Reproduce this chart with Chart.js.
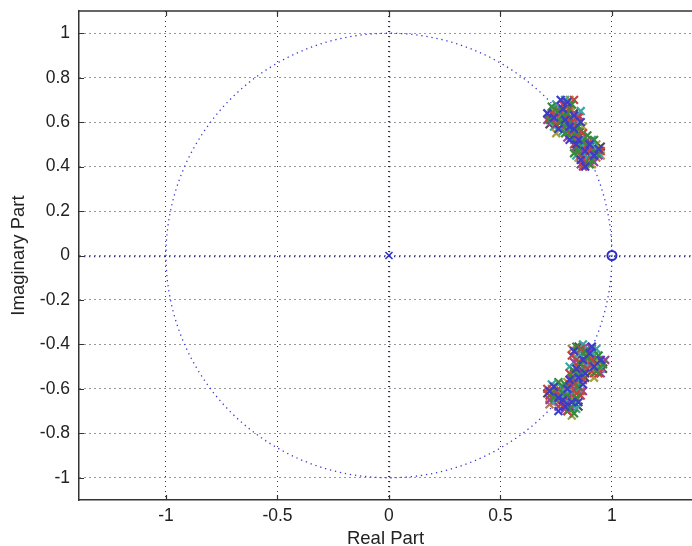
<!DOCTYPE html>
<html>
<head>
<meta charset="utf-8">
<script src="https://cdn.jsdelivr.net/npm/chart.js@4.4.1/dist/chart.umd.min.js"></script>
<style>
  html, body { margin: 0; padding: 0; background: #fff; overflow: hidden; }
  #wrap { width: 692px; height: 546px; }
</style>
</head>
<body>
<div id="wrap"><canvas id="chart"></canvas></div>
<script>
// axis ticks
var xTicks = [-1, -0.5, 0, 0.5, 1];
var yTicks = [-1, -0.8, -0.6, -0.4, -0.2, 0, 0.2, 0.4, 0.6, 0.8, 1];

// the filter's zero and pole
var zeroPts = [[1, 0]];
var polePts = [[0, 0]];

// poles from the many runs, upper half (one list per run group)
var upperRuns = [
  [[0.74,0.62],[0.78,0.66],[0.81,0.58],[0.85,0.52],[0.88,0.47],[0.92,0.45],[0.76,0.57],[0.83,0.63],[0.86,0.43],[0.90,0.50],[0.80,0.69],[0.94,0.48],
   [0.79,0.61],[0.83,0.57],[0.81,0.52],[0.88,0.40],[0.71,0.64],[0.77,0.70],[0.86,0.60],[0.84,0.50]],
  [[0.72,0.61],[0.77,0.60],[0.80,0.64],[0.84,0.56],[0.87,0.51],[0.91,0.43],[0.79,0.55],[0.82,0.68],[0.85,0.47],[0.93,0.46],[0.76,0.65],[0.89,0.54],
   [0.80,0.59],[0.82,0.53],[0.85,0.58],[0.90,0.41],[0.73,0.67],[0.78,0.63],[0.92,0.52],[0.83,0.46]],
  [[0.75,0.59],[0.79,0.62],[0.82,0.60],[0.83,0.50],[0.86,0.45],[0.90,0.47],[0.73,0.64],[0.81,0.66],[0.88,0.42],[0.95,0.47],[0.78,0.68],[0.87,0.55],
   [0.77,0.64],[0.84,0.54],[0.80,0.56],[0.87,0.40],[0.72,0.62],[0.83,0.70],[0.89,0.50],[0.85,0.62]],
  [[0.77,0.63],[0.80,0.60],[0.84,0.61],[0.86,0.49],[0.89,0.44],[0.92,0.49],[0.74,0.58],[0.79,0.70],[0.84,0.45],[0.91,0.52],[0.82,0.55],[0.86,0.65],
   [0.76,0.60],[0.81,0.56],[0.83,0.52],[0.86,0.52],[0.75,0.68],[0.78,0.56],[0.94,0.46],[0.88,0.47]],
  [[0.73,0.60],[0.78,0.58],[0.81,0.62],[0.85,0.54],[0.87,0.47],[0.94,0.45],[0.77,0.67],[0.83,0.59],[0.86,0.41],[0.90,0.45],[0.80,0.53],[0.88,0.51],
   [0.79,0.64],[0.82,0.55],[0.84,0.49],[0.92,0.42],[0.71,0.61],[0.85,0.63],[0.89,0.46],[0.75,0.63]],
  [[0.76,0.61],[0.79,0.65],[0.82,0.57],[0.84,0.52],[0.89,0.48],[0.91,0.41],[0.75,0.55],[0.81,0.70],[0.85,0.44],[0.93,0.50],[0.78,0.62],[0.87,0.58],
   [0.78,0.59],[0.83,0.61],[0.80,0.61],[0.87,0.53],[0.74,0.65],[0.82,0.65],[0.95,0.45],[0.86,0.46]],
  [[0.74,0.66],[0.77,0.62],[0.83,0.64],[0.86,0.56],[0.88,0.45],[0.92,0.47],[0.72,0.59],[0.80,0.67],[0.84,0.48],[0.95,0.49],[0.81,0.60],[0.89,0.42],
   [0.76,0.64],[0.81,0.54],[0.84,0.58],[0.90,0.43],[0.73,0.62],[0.79,0.59],[0.91,0.50],[0.85,0.52]],
  [[0.78,0.61],[0.80,0.57],[0.82,0.62],[0.85,0.50],[0.87,0.43],[0.90,0.49],[0.76,0.63],[0.79,0.69],[0.86,0.47],[0.93,0.44],[0.83,0.54],[0.91,0.46],
   [0.75,0.61],[0.82,0.58],[0.81,0.65],[0.88,0.50],[0.77,0.66],[0.84,0.63],[0.94,0.47],[0.87,0.41]]
];

// lower half
var lowerRuns = [
  [[0.83,-0.43],[0.87,-0.47],[0.92,-0.50],[0.85,-0.55],[0.80,-0.60],[0.76,-0.64],[0.90,-0.44],[0.82,-0.66],[0.74,-0.59],[0.88,-0.53],[0.95,-0.47],[0.79,-0.68],
   [0.84,-0.51],[0.81,-0.56],[0.78,-0.65],[0.72,-0.61],[0.87,-0.58],[0.91,-0.41],[0.85,-0.66],[0.76,-0.70]],
  [[0.84,-0.41],[0.89,-0.46],[0.93,-0.52],[0.83,-0.52],[0.78,-0.62],[0.73,-0.62],[0.86,-0.49],[0.81,-0.69],[0.76,-0.57],[0.85,-0.59],[0.96,-0.49],[0.84,-0.64],
   [0.82,-0.55],[0.86,-0.53],[0.80,-0.63],[0.74,-0.64],[0.88,-0.43],[0.94,-0.45],[0.83,-0.71],[0.79,-0.58]],
  [[0.82,-0.45],[0.86,-0.42],[0.91,-0.47],[0.87,-0.56],[0.81,-0.58],[0.75,-0.61],[0.89,-0.51],[0.78,-0.66],[0.72,-0.63],[0.84,-0.62],[0.94,-0.53],[0.80,-0.70],
   [0.85,-0.48],[0.83,-0.58],[0.77,-0.67],[0.71,-0.60],[0.89,-0.46],[0.92,-0.53],[0.86,-0.63],[0.81,-0.53]],
  [[0.85,-0.44],[0.88,-0.49],[0.92,-0.45],[0.84,-0.57],[0.79,-0.63],[0.77,-0.59],[0.87,-0.40],[0.83,-0.67],[0.75,-0.65],[0.86,-0.54],[0.95,-0.51],[0.81,-0.61],
   [0.81,-0.50],[0.85,-0.60],[0.79,-0.66],[0.73,-0.58],[0.90,-0.50],[0.93,-0.42],[0.84,-0.69],[0.77,-0.62]],
  [[0.83,-0.48],[0.87,-0.44],[0.90,-0.49],[0.86,-0.52],[0.82,-0.56],[0.74,-0.63],[0.91,-0.42],[0.80,-0.65],[0.77,-0.61],[0.83,-0.60],[0.97,-0.47],[0.79,-0.69],
   [0.85,-0.55],[0.82,-0.62],[0.76,-0.68],[0.72,-0.65],[0.88,-0.41],[0.95,-0.53],[0.87,-0.61],[0.81,-0.67]],
  [[0.84,-0.46],[0.89,-0.43],[0.94,-0.48],[0.82,-0.54],[0.80,-0.57],[0.76,-0.66],[0.88,-0.51],[0.83,-0.63],[0.73,-0.60],[0.85,-0.57],[0.92,-0.55],[0.78,-0.64],
   [0.86,-0.49],[0.80,-0.60],[0.78,-0.61],[0.75,-0.59],[0.90,-0.46],[0.92,-0.51],[0.82,-0.72],[0.84,-0.53]],
  [[0.86,-0.45],[0.85,-0.41],[0.93,-0.46],[0.88,-0.55],[0.81,-0.59],[0.77,-0.63],[0.90,-0.53],[0.79,-0.67],[0.71,-0.62],[0.84,-0.65],[0.96,-0.51],[0.82,-0.69],
   [0.83,-0.53],[0.87,-0.52],[0.80,-0.70],[0.74,-0.61],[0.86,-0.43],[0.94,-0.49],[0.85,-0.68],[0.79,-0.64]],
  [[0.82,-0.42],[0.87,-0.50],[0.91,-0.44],[0.84,-0.50],[0.78,-0.59],[0.75,-0.62],[0.89,-0.48],[0.81,-0.64],[0.74,-0.66],[0.86,-0.61],[0.93,-0.50],[0.80,-0.62],
   [0.84,-0.57],[0.88,-0.47],[0.77,-0.64],[0.72,-0.67],[0.91,-0.48],[0.96,-0.48],[0.83,-0.60],[0.82,-0.65]]
];

var runColors = ['#3c3cc8', '#3a8a3a', '#c84040', '#3aa6a6', '#a23ca2', '#a8a040', '#4a4a4a', '#b07a58'];

function toXY(arr) {
  return arr.map(function(p) { return {x: p[0], y: p[1]}; });
}

var datasets = [];
for (var i = 0; i < upperRuns.length; i++) {
  datasets.push({
    data: toXY(upperRuns[i]).concat(toXY(lowerRuns[i])),
    pointStyle: 'crossRot',
    radius: 5.5,
    borderWidth: 2.2,
    borderColor: runColors[i % runColors.length],
    backgroundColor: runColors[i % runColors.length]
  });
}
datasets.push({
  data: toXY(polePts), pointStyle: 'crossRot', radius: 5, borderWidth: 1.5,
  borderColor: '#2a2ad0', backgroundColor: '#2a2ad0'
});
datasets.push({
  data: toXY(zeroPts), pointStyle: 'circle', radius: 4.5, borderWidth: 2,
  borderColor: '#2a2ad0', backgroundColor: 'rgba(255,255,255,0)'
});

// unit circle, zero lines, box and inner ticks
var zplanePlugin = {
  id: 'zplane',
  beforeDatasetsDraw: function(chart) {
    var ctx = chart.ctx, a = chart.chartArea;
    var xs = chart.scales.x, ys = chart.scales.y;
    var cx = xs.getPixelForValue(0), cy = ys.getPixelForValue(0);
    var rx = xs.getPixelForValue(1) - cx, ry = cy - ys.getPixelForValue(1);
    ctx.save();
    ctx.beginPath();
    ctx.rect(a.left, a.top, a.right - a.left, a.bottom - a.top);
    ctx.clip();
    ctx.strokeStyle = '#3a3ad8';
    ctx.lineWidth = 1.3;
    ctx.setLineDash([1.3, 3.8]);
    ctx.beginPath();
    ctx.ellipse(cx, cy, rx, ry, 0, 0, Math.PI * 2);
    ctx.stroke();
    ctx.setLineDash([1.3, 3.7]);
    ctx.strokeStyle = '#30307a';
    ctx.beginPath();
    ctx.moveTo(a.left, Math.round(cy) + 0.5); ctx.lineTo(a.right, Math.round(cy) + 0.5);
    ctx.moveTo(Math.round(cx) + 0.5, a.top); ctx.lineTo(Math.round(cx) + 0.5, a.bottom);
    ctx.stroke();
    ctx.restore();
  },
  afterDraw: function(chart) {
    var ctx = chart.ctx, a = chart.chartArea;
    var xs = chart.scales.x, ys = chart.scales.y;
    ctx.save();
    ctx.strokeStyle = '#333';
    ctx.lineWidth = 1.5;
    ctx.beginPath();
    ctx.moveTo(a.left, a.top); ctx.lineTo(a.right, a.top);
    ctx.stroke();
    ctx.lineWidth = 1.2;
    ctx.beginPath();
    xTicks.forEach(function(v) {
      var px = Math.round(xs.getPixelForValue(v)) + 0.5;
      ctx.moveTo(px, a.bottom); ctx.lineTo(px, a.bottom - 5);
      ctx.moveTo(px, a.top); ctx.lineTo(px, a.top + 5);
    });
    yTicks.forEach(function(v) {
      var py = Math.round(ys.getPixelForValue(v)) + 0.5;
      ctx.moveTo(a.left, py); ctx.lineTo(a.left + 5, py);
    });
    ctx.stroke();
    ctx.restore();
  }
};

var tickFont = {family: 'Liberation Sans, Arial, sans-serif', size: 17.5};
var titleFont = {family: 'Liberation Sans, Arial, sans-serif', size: 18.5, lineHeight: 1};

function noPad(s) {
  s.paddingTop = 0; s.paddingBottom = 0; s.paddingLeft = 0; s.paddingRight = 0;
}

new Chart(document.getElementById('chart'), {
  type: 'scatter',
  data: {datasets: datasets},
  plugins: [zplanePlugin],
  options: {
    responsive: true,
    maintainAspectRatio: false,
    animation: false,
    layout: {autoPadding: false, padding: {top: 11, right: 0, left: 0, bottom: 0}},
    plugins: {legend: {display: false}, tooltip: {enabled: false}},
    scales: {
      x: {
        type: 'linear',
        min: -1.39,
        max: 1.359,
        afterBuildTicks: function(s) { s.ticks = xTicks.map(function(v) { return {value: v}; }); },
        afterFit: function(s) { s.height = 46; noPad(s); },
        ticks: {
          font: tickFont, color: '#222', padding: 6, maxRotation: 0,
          callback: function(v) { return String(Math.round(v * 10) / 10); }
        },
        grid: {color: 'rgba(0,0,0,0.8)', lineWidth: 1, drawTicks: false},
        border: {display: true, color: '#333', width: 1.5, dash: [1, 4]},
        title: {display: true, text: 'Real Part', color: '#222', font: titleFont,
          padding: {top: 0, bottom: -2}}
      },
      y: {
        type: 'linear',
        min: -1.1,
        max: 1.1,
        afterBuildTicks: function(s) { s.ticks = yTicks.map(function(v) { return {value: v}; }); },
        afterFit: function(s) { s.width = 79; noPad(s); },
        ticks: {
          font: tickFont, color: '#222', padding: 9,
          callback: function(v) { return String(Math.round(v * 10) / 10); }
        },
        grid: {color: 'rgba(0,0,0,0.8)', lineWidth: 1, drawTicks: false},
        border: {display: true, color: '#333', width: 1.5, dash: [1, 4]},
        title: {display: true, text: 'Imaginary Part', color: '#222', font: titleFont,
          padding: {top: 10, bottom: 0}}
      }
    }
  }
});
</script>
</body>
</html>
